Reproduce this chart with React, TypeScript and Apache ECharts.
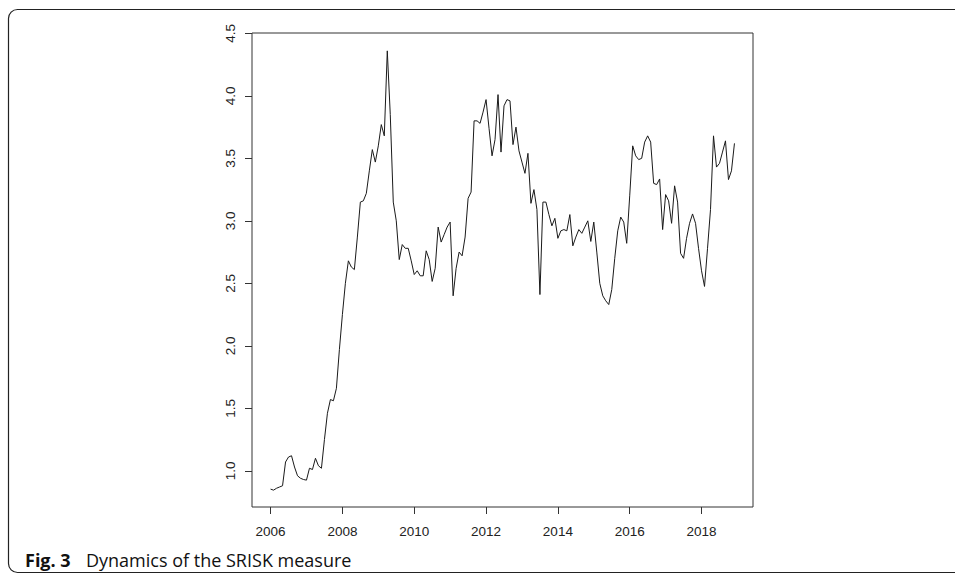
import React, { useEffect, useRef } from "react";
import * as echarts from "echarts";

const startYear = 2006;
const xTicks = [2006, 2008, 2010, 2012, 2014, 2016, 2018];
const yTicks = [1.0, 1.5, 2.0, 2.5, 3.0, 3.5, 4.0, 4.5];
// Monthly SRISK values, Jan 2006 .. Dec 2018
const srisk = [
  0.853, 0.845, 0.86, 0.87, 0.88, 1.07, 1.11, 1.12, 1.03, 0.96, 0.94, 0.93,
  0.925, 1.02, 1.01, 1.10, 1.04, 1.02, 1.25, 1.46, 1.57, 1.56, 1.66, 1.97,
  2.25, 2.50, 2.68, 2.63, 2.61, 2.87, 3.15, 3.16, 3.22, 3.40, 3.57, 3.47,
  3.60, 3.77, 3.68, 4.36, 3.85, 3.15, 3.0, 2.69, 2.81, 2.78, 2.78, 2.68,
  2.57, 2.60, 2.56, 2.56, 2.76, 2.69, 2.515, 2.62, 2.95, 2.83, 2.89, 2.95,
  2.99, 2.40, 2.62, 2.75, 2.72, 2.87, 3.18, 3.23, 3.80, 3.80, 3.78, 3.87,
  3.97, 3.74, 3.52, 3.65, 4.01, 3.55, 3.92, 3.97, 3.96, 3.61, 3.75, 3.56,
  3.47, 3.38, 3.54, 3.14, 3.25, 3.09, 2.41, 3.15, 3.15, 3.05, 2.96, 3.02,
  2.86, 2.92, 2.93, 2.92, 3.05, 2.80, 2.87, 2.93, 2.90, 2.95, 3.00, 2.835,
  2.99, 2.75, 2.50, 2.40, 2.36, 2.33, 2.45, 2.70, 2.92, 3.03, 2.99, 2.82,
  3.20, 3.60, 3.52, 3.49, 3.50, 3.63, 3.68, 3.63, 3.30, 3.29, 3.335, 2.93,
  3.21, 3.16, 2.98, 3.28, 3.15, 2.74, 2.70, 2.86, 2.98, 3.055, 2.98, 2.78,
  2.60, 2.475, 2.78, 3.09, 3.68, 3.43, 3.46, 3.55, 3.64, 3.33, 3.40, 3.62,
];
const captionBold = "Fig. 3";
const captionText = "Dynamics of the SRISK measure";

export default function App() {
  const ref = useRef<HTMLDivElement>(null);
  useEffect(() => {
    if (!ref.current) return;
    const chart = echarts.init(ref.current, null, { renderer: "svg" });
    const data = srisk.map((v, i) => [startYear + i / 12, v]);
    const axisFont = {
      fontFamily: "'Liberation Sans', Arial, sans-serif",
      fontSize: 13.5,
      color: "#222",
    };
    chart.setOption({
      animation: false,
      backgroundColor: "#fff",
      grid: {
        left: 252,
        top: 33,
        right: 202,
        bottom: 69,
        containLabel: false,
        show: true,
        borderColor: "#333",
        borderWidth: 1,
        backgroundColor: "transparent",
      },
      xAxis: {
        type: "value",
        min: 2005.483,
        max: 2019.433,
        splitLine: { show: false },
        axisLine: { show: false },
        axisTick: {
          show: true,
          length: 7,
          customValues: xTicks,
          lineStyle: { color: "#333", width: 1 },
        },
        axisLabel: {
          ...axisFont,
          margin: 17,
          customValues: xTicks,
          formatter: (v: number) => String(Math.round(v)),
        },
      },
      yAxis: {
        type: "value",
        min: 0.71,
        max: 4.503,
        splitLine: { show: false },
        axisLine: { show: false },
        axisTick: {
          show: true,
          length: 7,
          customValues: yTicks,
          lineStyle: { color: "#333", width: 1 },
        },
        axisLabel: {
          ...axisFont,
          margin: 15,
          rotate: 90,
          customValues: yTicks,
          formatter: (v: number) => v.toFixed(1),
        },
      },
      series: [
        {
          type: "line",
          data,
          showSymbol: false,
          symbol: "none",
          lineStyle: { color: "#1a1a1a", width: 1 },
        },
      ],
      graphic: [
        {
          type: "rect",
          shape: { x: 8.5, y: 9.5, width: 970, height: 563, r: 9 },
          style: { fill: "none", stroke: "#222", lineWidth: 1.2 },
          silent: true,
        },
        {
          type: "text",
          x: 25,
          y: 560,
          style: {
            text: captionBold,
            font: "bold 18px 'Open Sans', sans-serif",
            fill: "#111",
            verticalAlign: "middle",
          },
        },
        {
          type: "text",
          x: 86,
          y: 560,
          style: {
            text: captionText,
            font: "18px 'Open Sans', sans-serif",
            fill: "#111",
            verticalAlign: "middle",
          },
        },
      ],
    });
    return () => chart.dispose();
  }, []);
  return (
    <div
      ref={ref}
      style={{ position: "fixed", left: 0, top: 0, width: 955, height: 576 }}
    />
  );
}
